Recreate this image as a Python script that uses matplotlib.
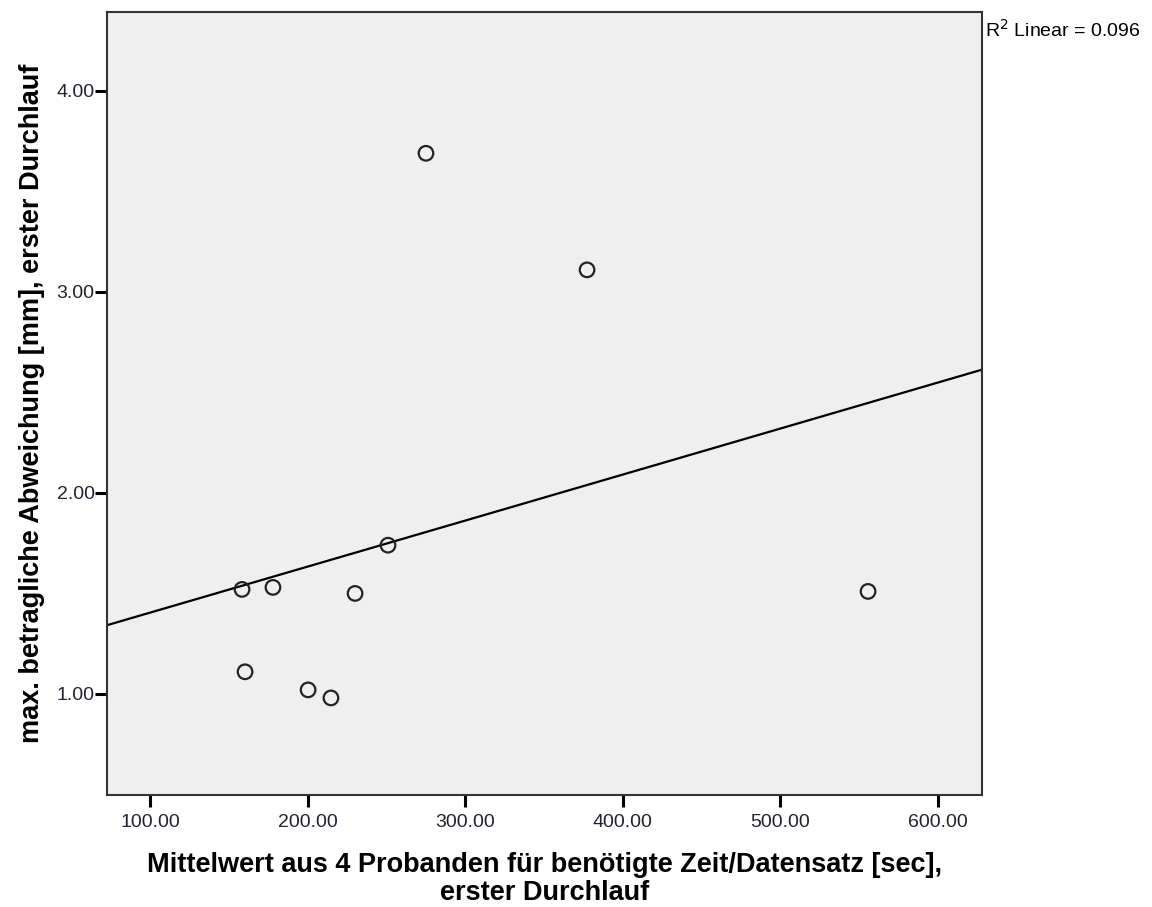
import numpy as np
import matplotlib
matplotlib.use("Agg")
import matplotlib.pyplot as plt

plt.rcParams["font.family"] = ["Liberation Sans", "DejaVu Sans"]

# mean time per data set [sec] vs max. absolute deviation [mm], first run
zeit = [158.4, 160.3, 178.0, 200.3, 214.8, 230.1, 251.0, 275.1, 377.3, 555.6]
abweichung = [1.52, 1.11, 1.53, 1.02, 0.98, 1.50, 1.74, 3.69, 3.11, 1.51]
x_ticks = [100, 200, 300, 400, 500, 600]
y_ticks = [1, 2, 3, 4]

x = np.array(zeit)
y = np.array(abweichung)
slope, intercept = np.polyfit(x, y, 1)
r2 = np.corrcoef(x, y)[0, 1] ** 2

fig = plt.figure(figsize=(11.52, 9.07), dpi=100)
ax = fig.add_axes([107 / 1152, 112 / 907, 875 / 1152, 783 / 907])
ax.set_facecolor("#efefef")

xlim = (72.7, 627.9)
ax.set_xlim(*xlim)
ax.set_ylim(0.497, 4.393)

xs = np.array(xlim)
ax.plot(xs, intercept + slope * xs, color="black", lw=1.6, zorder=2)
ax.scatter(x, y, s=110, facecolors="none", edgecolors="#222222", linewidths=1.6, zorder=3)

ax.set_xticks(x_ticks)
ax.set_xticklabels([f"{v:.2f}" for v in x_ticks])
ax.set_yticks(y_ticks)
ax.set_yticklabels([f"{v:.2f}" for v in y_ticks])
ax.tick_params(direction="out", length=8.5, width=2.2, labelsize=14, colors="black",
               labelcolor="#222233")
ax.tick_params(axis="x", pad=5)
ax.tick_params(axis="y", length=9, pad=0)
for s in ax.spines.values():
    s.set_linewidth(1.5)
    s.set_color("#333333")

ax.set_xlabel("Mittelwert aus 4 Probanden für benötigte Zeit/Datensatz [sec],\nerster Durchlauf",
              fontsize=19.5, fontweight="bold", labelpad=15, linespacing=1.1)
ax.set_ylabel("max. betragliche Abweichung [mm], erster Durchlauf",
              fontsize=19.5, fontweight="bold", labelpad=8)

fig.text(985 / 1152, 1 - 30 / 907, f"R$^2$ Linear = {r2:.3f}", fontsize=14,
         ha="left", va="center")

fig.savefig("out.png", dpi=100)
